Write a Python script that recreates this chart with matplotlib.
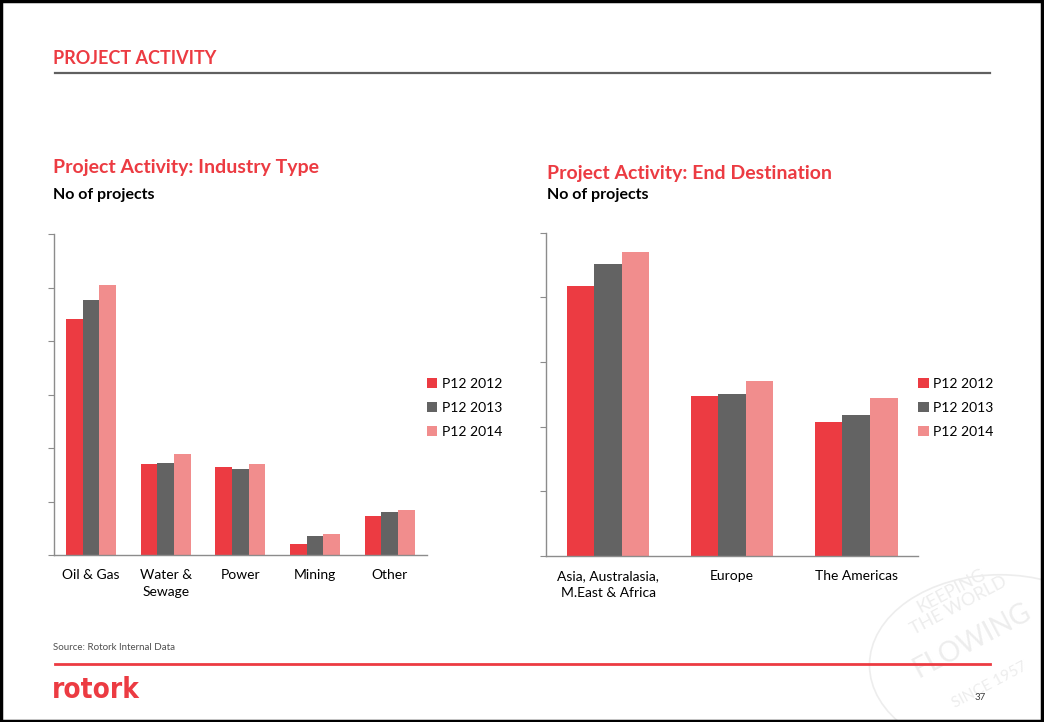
import matplotlib.pyplot as plt
import numpy as np
from matplotlib.patches import Circle

plt.rcParams['font.family'] = ['Lato', 'DejaVu Sans']

# data (y axis is unlabeled in the source)
industry = ['Oil & Gas', 'Water &\nSewage', 'Power', 'Mining', 'Other']
ind_2012 = [221, 85, 82, 10, 36]
ind_2013 = [238, 86, 80, 18, 40]
ind_2014 = [252, 94, 85, 20, 42]

destination = ['Asia, Australasia,\nM.East & Africa', 'Europe', 'The Americas']
dest_2012 = [417, 247, 208]
dest_2013 = [452, 250, 218]
dest_2014 = [470, 270, 244]

series = ['P12 2012', 'P12 2013', 'P12 2014']
colors = ['#EC3B42', '#636363', '#F18D8D']

RED = '#EC3B42'
AXIS = '#8C8C8C'
WM = '#EDEDED'

fig = plt.figure(figsize=(10.44, 7.22), dpi=100)


def px(x, y):
    return x / 1044, 1 - y / 722


# watermark seal (drawn first so it sits behind everything)
fig.patches.append(Circle(px(1000, 665), 0.125, transform=fig.transFigure,
                          fill=False, ec=WM, lw=1.2, zorder=0))
fig.text(*px(955, 598), 'KEEPING\nTHE WORLD', color=WM, fontsize=13,
         rotation=28, ha='center', va='center', linespacing=1.0, zorder=0)
fig.text(*px(972, 640), 'FLOWING', color=WM, fontsize=20,
         rotation=28, ha='center', va='center', zorder=0)
fig.text(*px(990, 685), 'SINCE 1957', color=WM, fontsize=11,
         rotation=28, ha='center', va='center', zorder=0)


def bar_panel(rect, cats, vals, ymax, ystep, legend_y):
    ax = fig.add_axes(rect)
    ax.patch.set_alpha(0)
    x = np.arange(len(cats))
    w = 0.222
    for i, (v, c, lab) in enumerate(zip(vals, colors, series)):
        ax.bar(x + (i - 1) * w, v, w, color=c, label=lab, linewidth=0)
    ax.set_xlim(-0.5, len(cats) - 0.5)
    ax.set_ylim(0, ymax)
    ax.set_yticks(np.arange(0, ymax + 1, ystep))
    ax.set_yticklabels([])
    ax.set_xticks(x)
    ax.set_xticklabels(cats, fontsize=10, linespacing=1.5)
    ax.tick_params(axis='x', length=0, pad=10)
    ax.tick_params(axis='y', length=4, color=AXIS, direction='out')
    for s in ['top', 'right']:
        ax.spines[s].set_visible(False)
    for s in ['left', 'bottom']:
        ax.spines[s].set_color(AXIS)
        ax.spines[s].set_linewidth(1.0)
    ax.legend(loc='center left', bbox_to_anchor=(1.0, legend_y), frameon=False,
              fontsize=10, handlelength=0.75, handleheight=0.75,
              handletextpad=0.3, labelspacing=0.85, borderpad=0, borderaxespad=0)
    return ax


bar_panel([0.0514, 0.2313, 0.3576, 0.4446], industry,
          [ind_2012, ind_2013, ind_2014], 300, 50, 0.458)
bar_panel([0.523, 0.2299, 0.3566, 0.4478], destination,
          [dest_2012, dest_2013, dest_2014], 500, 100, 0.458)

# headings
fig.text(*px(53, 58), 'PROJECT ACTIVITY', color=RED, fontsize=13,
         fontweight='bold', va='center', ha='left')
fig.add_artist(plt.Line2D([55 / 1044, 990 / 1044], [1 - 73 / 722] * 2,
                          color='#606060', lw=1.6))
fig.text(*px(53, 168), 'Project Activity: Industry Type', color=RED,
         fontsize=14, fontweight='bold', va='center')
fig.text(*px(53, 195), 'No of projects', color='black', fontsize=11.5,
         fontweight='bold', va='center')
fig.text(*px(547, 173), 'Project Activity: End Destination', color=RED,
         fontsize=14, fontweight='bold', va='center')
fig.text(*px(547, 195), 'No of projects', color='black', fontsize=11.5,
         fontweight='bold', va='center')

# footer
fig.text(*px(53, 648), 'Source: Rotork Internal Data', color='#505050',
         fontsize=7, va='center')
fig.add_artist(plt.Line2D([55 / 1044, 990 / 1044], [1 - 664 / 722] * 2,
                          color=RED, lw=2))
fig.text(*px(52, 690), 'rotork', color=RED, fontsize=20, fontweight='heavy',
         family=['DejaVu Sans'], fontstretch='condensed', va='center')
fig.text(*px(975, 697), '37', color='#404040', fontsize=7, va='center')

# slide border
fig.add_artist(plt.Rectangle((0.001, 0.002), 0.997, 0.996, fill=False,
                             ec='black', lw=2.5, transform=fig.transFigure))

fig.savefig('out.png', dpi=100)
